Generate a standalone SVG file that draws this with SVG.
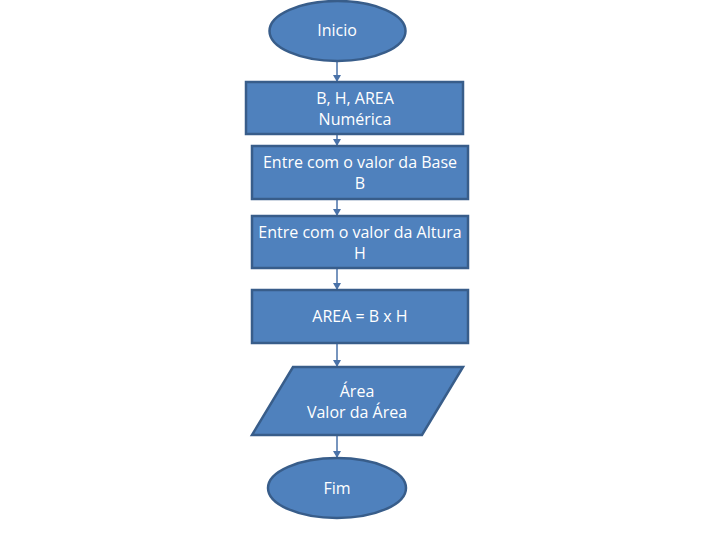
<svg xmlns="http://www.w3.org/2000/svg" width="720" height="540" viewBox="0 0 720 540">
<defs>
<style>
.s{fill:#4F81BD;stroke:#385D8A;stroke-width:2.5}
.t{fill:#fff;font-family:"Open Sans","Liberation Sans",sans-serif;font-size:16px;text-anchor:middle}
.c{stroke:#4A72A8;stroke-width:1.5;fill:none}
</style>
<marker id="a" markerWidth="8" markerHeight="8" refX="6" refY="4" orient="auto" markerUnits="userSpaceOnUse">
<path d="M0,0 L7,4 L0,8 z" fill="#4A72A8"/>
</marker>
</defs>
<rect width="720" height="540" fill="#fff"/>
<g id="connectors">
<line class="c" x1="337" y1="61" x2="337" y2="81" marker-end="url(#a)"/>
<line class="c" x1="337" y1="135" x2="337" y2="145" marker-end="url(#a)"/>
<line class="c" x1="337" y1="200" x2="337" y2="215" marker-end="url(#a)"/>
<line class="c" x1="337" y1="269" x2="337" y2="289" marker-end="url(#a)"/>
<line class="c" x1="337" y1="344" x2="337" y2="366" marker-end="url(#a)"/>
<line class="c" x1="337" y1="436" x2="337" y2="457" marker-end="url(#a)"/>
</g>
<g id="inicio">
<ellipse class="s" cx="337.5" cy="31" rx="68" ry="30"/>
<text class="t" x="337" y="36">Inicio</text>
</g>
<g id="vars">
<rect class="s" x="246" y="82" width="217" height="52"/>
<text class="t" x="355" y="104">B, H, AREA</text>
<text class="t" x="355" y="125">Numérica</text>
</g>
<g id="base">
<rect class="s" x="252" y="146" width="216" height="53"/>
<text class="t" x="360" y="168">Entre com o valor da Base</text>
<text class="t" x="360" y="189">B</text>
</g>
<g id="altura">
<rect class="s" x="252" y="216" width="216" height="52"/>
<text class="t" x="360" y="238">Entre com o valor da Altura</text>
<text class="t" x="360" y="259">H</text>
</g>
<g id="calc">
<rect class="s" x="252" y="290" width="216" height="53"/>
<text class="t" x="360" y="322">AREA = B x H</text>
</g>
<g id="saida">
<polygon class="s" points="293,367 463,367 422,435 252,435"/>
<text class="t" x="357" y="397">Área</text>
<text class="t" x="357" y="418">Valor da Área</text>
</g>
<g id="fim">
<ellipse class="s" cx="337" cy="488" rx="69" ry="30"/>
<text class="t" x="337" y="494">Fim</text>
</g>
</svg>
